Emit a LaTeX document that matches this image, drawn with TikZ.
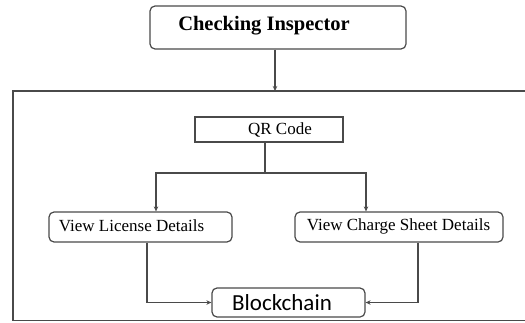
\documentclass[tikz,border=0pt]{standalone}
\usepackage{fontspec}
\setmainfont{Liberation Serif}
\newfontfamily\blockfont{Carlito}
\usetikzlibrary{arrows.meta}
\definecolor{lc}{HTML}{4A4A4A}
\begin{document}
\begin{tikzpicture}[x=1pt,y=1pt,
  line width=1.2pt, draw=lc,
  rbox/.style={draw=lc, line width=1.2pt, rounded corners=5pt, inner sep=0pt},
  sbox/.style={draw=lc, line width=1.2pt, inner sep=0pt},
  conn/.style={draw=lc, line width=1.2pt, -{Stealth[length=5pt,width=4.5pt]}},
  plain/.style={draw=lc, line width=1.2pt}]
\useasboundingbox (0,0) rectangle (525,322);
\clip (0,0) rectangle (525,322);
% outer frame (right edge outside the picture)
\draw[lc, line width=1.5pt] (540,231) -- (13,231) -- (13,1.5) -- (540,1.5);
% nodes
\node[rbox, minimum width=256pt, minimum height=43pt] (ci) at (278,294.5) {};
\node at (264,296) {\fontsize{20.5}{24}\selectfont\bfseries Checking Inspector};
\node[sbox, minimum width=148pt, minimum height=25pt] (qr) at (269,192.5) {};
\node at (280,192.5) {\fontsize{17}{20}\selectfont QR Code};
\node[rbox, minimum width=183pt, minimum height=30pt] (lic) at (140.5,95) {};
\node[anchor=west] at (55,96) {\fontsize{17}{20}\selectfont View License Details};
\node[rbox, minimum width=208pt, minimum height=30pt] (chg) at (399,95) {};
\node at (398.5,96) {\fontsize{17}{20}\selectfont View Charge Sheet Details};
\node[rbox, minimum width=153pt, minimum height=29pt] (bc) at (288.5,19.5) {};
\node at (282,19.5) {\blockfont\fontsize{23}{26}\selectfont Blockchain};
% connectors
\coordinate (top) at (275,231);
\draw[conn] (ci.south -| top) -- (top);
\coordinate (split) at (265,149);
\draw[plain] (qr.south -| split) -- (split);
\draw[conn] (split) -| ([xshift=15.5pt]lic.north);
\draw[conn] (split) -| ([xshift=-33pt]chg.north);
\draw[conn] ([xshift=6.5pt]lic.south) |- (bc.west);
\draw[conn] ([xshift=19pt]chg.south) |- (bc.east);
\end{tikzpicture}
\end{document}
